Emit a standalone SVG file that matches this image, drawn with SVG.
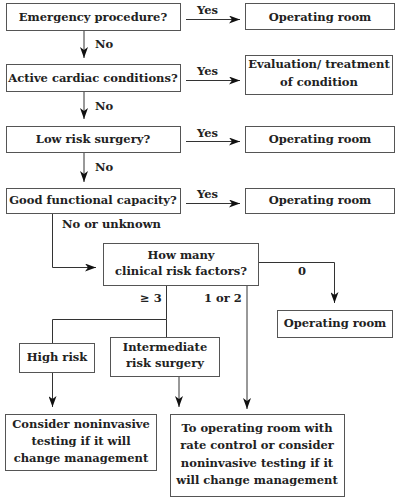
<svg xmlns="http://www.w3.org/2000/svg" width="400" height="500" viewBox="0 0 400 500">
<style>
  .box { fill: #fff; stroke: #555; stroke-width: 1; }
  .t { font-family: "DejaVu Serif", "Liberation Serif", serif; font-weight: bold; font-size: 11.5px; fill: #222; text-anchor: middle; }
  .lbl { font-family: "DejaVu Serif", "Liberation Serif", serif; font-weight: bold; font-size: 11.5px; fill: #222; }
  .ln { fill: none; stroke: #333; stroke-width: 1; }
</style>
<defs>
  <marker id="ah" markerWidth="12" markerHeight="8" refX="11" refY="4" orient="auto" markerUnits="userSpaceOnUse">
    <path d="M0,0 L11,4 L0,8 L3,4 Z" fill="#111"/>
  </marker>
</defs>
<rect width="400" height="500" fill="#fff"/>
<g id="connectors">
  <line class="ln" x1="186" y1="19.5" x2="240" y2="19.5" marker-end="url(#ah)"/>
  <line class="ln" x1="84" y1="30" x2="84" y2="58" marker-end="url(#ah)"/>
  <line class="ln" x1="186" y1="80.5" x2="240" y2="80.5" marker-end="url(#ah)"/>
  <line class="ln" x1="84" y1="91" x2="84" y2="119" marker-end="url(#ah)"/>
  <line class="ln" x1="186" y1="141.5" x2="240" y2="141.5" marker-end="url(#ah)"/>
  <line class="ln" x1="84" y1="152" x2="84" y2="182" marker-end="url(#ah)"/>
  <line class="ln" x1="186" y1="203.5" x2="240" y2="203.5" marker-end="url(#ah)"/>
  <polyline class="ln" points="52.5,213 52.5,267.5 96,267.5" marker-end="url(#ah)"/>
  <polyline class="ln" points="258,262.5 334.5,262.5 334.5,303" marker-end="url(#ah)"/>
  <polyline class="ln" points="166.5,285 166.5,319.5 52.5,319.5 52.5,343"/>
  <line class="ln" x1="166.5" y1="319.5" x2="166.5" y2="337"/>
  <line class="ln" x1="247" y1="285" x2="247" y2="409" marker-end="url(#ah)"/>
  <line class="ln" x1="52.5" y1="372" x2="52.5" y2="407" marker-end="url(#ah)"/>
  <line class="ln" x1="179" y1="376" x2="179" y2="407" marker-end="url(#ah)"/>
  <text class="lbl" x="197" y="14">Yes</text>
  <text class="lbl" x="95" y="48">No</text>
  <text class="lbl" x="197" y="75">Yes</text>
  <text class="lbl" x="95" y="110">No</text>
  <text class="lbl" x="197" y="137">Yes</text>
  <text class="lbl" x="95" y="171">No</text>
  <text class="lbl" x="197" y="198">Yes</text>
  <text class="lbl" x="62" y="228">No or unknown</text>
  <text class="lbl" x="298" y="275">0</text>
  <text class="lbl" x="140" y="302">≥ 3</text>
  <text class="lbl" x="204" y="302">1 or 2</text>
</g>
<g id="n1"><rect class="box" x="6.5" y="3.5" width="174" height="27"/><text class="t" x="93" y="21">Emergency procedure?</text></g>
<g id="n2"><rect class="box" x="245.5" y="3.5" width="149" height="26"/><text class="t" x="320" y="21">Operating room</text></g>
<g id="n3"><rect class="box" x="6.5" y="64.5" width="174" height="27"/><text class="t" x="93" y="82">Active cardiac conditions?</text></g>
<g id="n4"><rect class="box" x="245.5" y="55.5" width="147" height="39"/><text class="t" x="319" y="68">Evaluation/ treatment</text><text class="t" x="319" y="86">of condition</text></g>
<g id="n5"><rect class="box" x="6.5" y="126.5" width="174" height="26"/><text class="t" x="93" y="143">Low risk surgery?</text></g>
<g id="n6"><rect class="box" x="245.5" y="126.5" width="149" height="26"/><text class="t" x="320" y="143">Operating room</text></g>
<g id="n7"><rect class="box" x="6.5" y="188.5" width="174" height="25"/><text class="t" x="93" y="204">Good functional capacity?</text></g>
<g id="n8"><rect class="box" x="245.5" y="188.5" width="149" height="25"/><text class="t" x="320" y="204">Operating room</text></g>
<g id="n9"><rect class="box" x="103.5" y="243.5" width="155" height="42"/><text class="t" x="181" y="259">How many</text><text class="t" x="181" y="275">clinical risk factors?</text></g>
<g id="n10"><rect class="box" x="277.5" y="310.5" width="115" height="27"/><text class="t" x="335" y="327">Operating room</text></g>
<g id="n11"><rect class="box" x="19.5" y="343.5" width="75" height="29"/><text class="t" x="57" y="361">High risk</text></g>
<g id="n12"><rect class="box" x="110.5" y="337.5" width="109" height="39"/><text class="t" x="165" y="351">Intermediate</text><text class="t" x="165" y="367">risk surgery</text></g>
<g id="n13"><rect class="box" x="5.5" y="414.5" width="151" height="56"/><text class="t" x="81" y="428">Consider noninvasive</text><text class="t" x="81" y="445">testing if it will</text><text class="t" x="81" y="462">change management</text></g>
<g id="n14"><rect class="box" x="170.5" y="414.5" width="174" height="82"/><text class="t" x="257" y="432">To operating room with</text><text class="t" x="257" y="449">rate control or consider</text><text class="t" x="257" y="467">noninvasive testing if it</text><text class="t" x="257" y="484">will change management</text></g>
</svg>
